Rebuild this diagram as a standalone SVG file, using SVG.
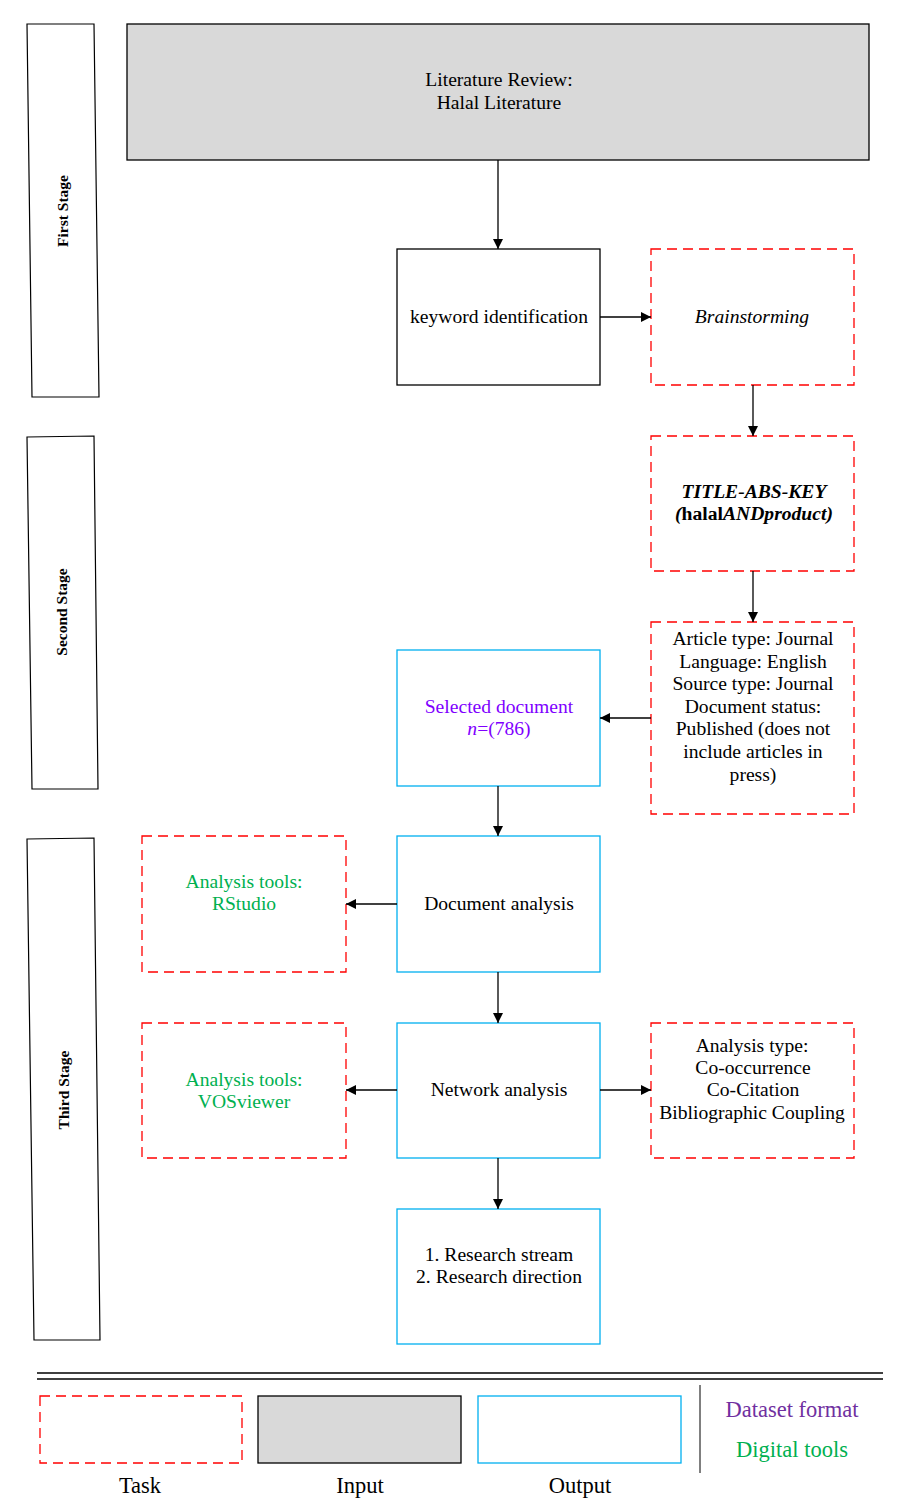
<svg xmlns="http://www.w3.org/2000/svg" width="915" height="1506" viewBox="0 0 915 1506">
<defs>
<style>
.t{font-family:"Liberation Serif","Times New Roman",serif;font-size:19.6px;fill:#000;text-anchor:middle}
.stage{font-family:"Liberation Serif","Times New Roman",serif;font-size:15.5px;font-weight:bold;fill:#000;text-anchor:middle}
.task{fill:#fff;stroke:#ff0000;stroke-width:1.3;stroke-dasharray:10 6}
.input{fill:#d9d9d9;stroke:#000;stroke-width:1.3}
.plain{fill:#fff;stroke:#000;stroke-width:1.3}
.out{fill:#fff;stroke:#00b0f0;stroke-width:1.3}
.band{fill:#fff;stroke:#000;stroke-width:1.2}
.conn{stroke:#000;stroke-width:1.3;fill:none;marker-end:url(#arr)}
.green{fill:#00b050}
.violet{fill:#8000ff}
.leg{font-family:"Liberation Serif","Times New Roman",serif;font-size:22.5px;text-anchor:middle;fill:#000}
</style>
<marker id="arr" markerWidth="10" markerHeight="10" refX="10" refY="5" orient="auto" markerUnits="userSpaceOnUse">
<path d="M0,0 L10,5 L0,10 Z" fill="#000"/>
</marker>
</defs>
<rect width="915" height="1506" fill="#fff"/>

<g id="stage1">
<polygon class="band" points="27,24 94,24 99,397 32,397"/>
<text class="stage" transform="translate(68,211) rotate(-90)">First Stage</text>
</g>
<g id="stage2">
<polygon class="band" points="27,437 94,436 98,789 32,789"/>
<text class="stage" transform="translate(67,612) rotate(-90)">Second Stage</text>
</g>
<g id="stage3">
<polygon class="band" points="27,839 94,838 100,1340 34,1340"/>
<text class="stage" transform="translate(69,1090) rotate(-90)">Third Stage</text>
</g>

<g id="literature">
<rect class="input" x="127" y="24" width="742" height="136"/>
<text class="t" x="499" y="86">Literature Review:</text>
<text class="t" x="499" y="109">Halal Literature</text>
</g>
<g id="keyword">
<rect class="plain" x="397" y="249" width="203" height="136"/>
<text class="t" x="499" y="323">keyword identification</text>
</g>
<g id="brainstorming">
<rect class="task" x="651" y="249" width="203" height="136"/>
<text class="t" x="752" y="323" font-style="italic">Brainstorming</text>
</g>
<g id="query">
<rect class="task" x="651" y="436" width="203" height="135"/>
<text class="t" x="754" y="498" font-weight="bold" font-style="italic">TITLE-ABS-KEY</text>
<text class="t" x="754" y="520" font-weight="bold"><tspan font-style="italic">(</tspan>halal<tspan font-style="italic">ANDproduct)</tspan></text>
</g>
<g id="criteria">
<rect class="task" x="651" y="622" width="203" height="192"/>
<text class="t" x="753" y="645">Article type: Journal</text>
<text class="t" x="753" y="668">Language: English</text>
<text class="t" x="753" y="690">Source type: Journal</text>
<text class="t" x="753" y="713">Document status:</text>
<text class="t" x="753" y="735">Published (does not</text>
<text class="t" x="753" y="758">include articles in</text>
<text class="t" x="753" y="781">press)</text>
</g>
<g id="selected">
<rect class="out" x="397" y="650" width="203" height="136"/>
<text class="t violet" x="499" y="713">Selected document</text>
<text class="t violet" x="499" y="735"><tspan font-style="italic">n</tspan>=(786)</text>
</g>
<g id="docanalysis">
<rect class="out" x="397" y="836" width="203" height="136"/>
<text class="t" x="499" y="910">Document analysis</text>
</g>
<g id="rstudio">
<rect class="task" x="142" y="836" width="204" height="136"/>
<text class="t green" x="244" y="888">Analysis tools:</text>
<text class="t green" x="244" y="910">RStudio</text>
</g>
<g id="network">
<rect class="out" x="397" y="1023" width="203" height="135"/>
<text class="t" x="499" y="1096">Network analysis</text>
</g>
<g id="vosviewer">
<rect class="task" x="142" y="1023" width="204" height="135"/>
<text class="t green" x="244" y="1086">Analysis tools:</text>
<text class="t green" x="244" y="1108">VOSviewer</text>
</g>
<g id="analysistype">
<rect class="task" x="651" y="1023" width="203" height="135"/>
<text class="t" x="752" y="1052">Analysis type:</text>
<text class="t" x="753" y="1074">Co-occurrence</text>
<text class="t" x="753" y="1096">Co-Citation</text>
<text class="t" x="752" y="1119">Bibliographic Coupling</text>
</g>
<g id="research">
<rect class="out" x="397" y="1209" width="203" height="135"/>
<text class="t" x="499" y="1261">1. Research stream</text>
<text class="t" x="499" y="1283">2. Research direction</text>
</g>

<g id="connectors">
<line class="conn" x1="498" y1="160" x2="498" y2="249"/>
<line class="conn" x1="600" y1="317" x2="651" y2="317"/>
<line class="conn" x1="753" y1="385" x2="753" y2="436"/>
<line class="conn" x1="753" y1="571" x2="753" y2="622"/>
<line class="conn" x1="651" y1="718" x2="600" y2="718"/>
<line class="conn" x1="498" y1="786" x2="498" y2="836"/>
<line class="conn" x1="397" y1="904" x2="346" y2="904"/>
<line class="conn" x1="498" y1="972" x2="498" y2="1023"/>
<line class="conn" x1="397" y1="1090" x2="346" y2="1090"/>
<line class="conn" x1="600" y1="1090" x2="651" y2="1090"/>
<line class="conn" x1="498" y1="1158" x2="498" y2="1209"/>
</g>

<g id="legend">
<line x1="37" y1="1373" x2="883" y2="1373" stroke="#000" stroke-width="1.5"/>
<line x1="37" y1="1379" x2="883" y2="1379" stroke="#000" stroke-width="1.5"/>
<rect class="task" x="40" y="1396" width="202" height="67"/>
<rect class="input" x="258" y="1396" width="203" height="67"/>
<rect class="out" x="478" y="1396" width="203" height="67"/>
<line x1="700" y1="1385" x2="700" y2="1473" stroke="#000" stroke-width="1"/>
<text class="leg" x="140" y="1493">Task</text>
<text class="leg" x="360" y="1493">Input</text>
<text class="leg" x="580" y="1493">Output</text>
<text class="leg" x="792" y="1417" style="fill:#7030a0">Dataset format</text>
<text class="leg" x="792" y="1457" style="fill:#00b050">Digital tools</text>
</g>
</svg>
